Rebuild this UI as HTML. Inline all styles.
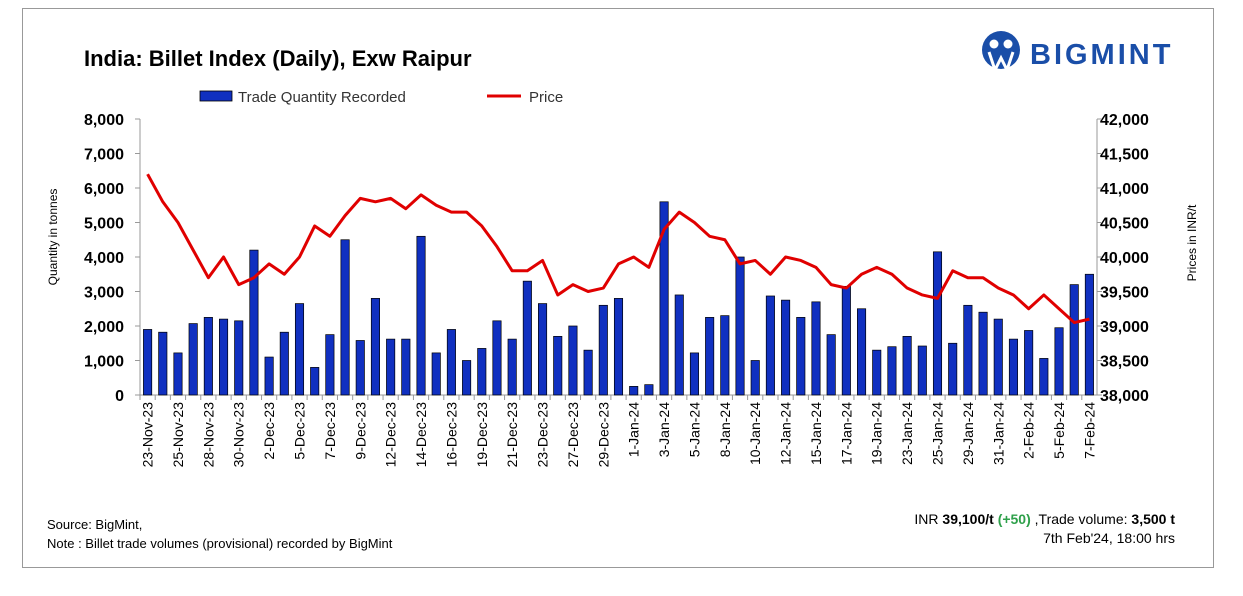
<!DOCTYPE html>
<html><head><meta charset="utf-8"><style>
body{margin:0;background:#fff;font-family:"Liberation Sans",sans-serif}
#wrap{position:relative;width:1243px;height:596px;overflow:hidden}
#frame{position:absolute;left:22px;top:8px;width:1190px;height:558px;border:1px solid #999}
</style></head><body>
<div id="wrap">
<div id="frame"></div>
<svg id="chart" width="1243" height="596" style="position:absolute;left:0;top:0"></svg>
</div>
<script>
const dates=["23-Nov-23","24-Nov-23","25-Nov-23","27-Nov-23","28-Nov-23","29-Nov-23","30-Nov-23","1-Dec-23","2-Dec-23","4-Dec-23","5-Dec-23","6-Dec-23","7-Dec-23","8-Dec-23","9-Dec-23","11-Dec-23","12-Dec-23","13-Dec-23","14-Dec-23","15-Dec-23","16-Dec-23","18-Dec-23","19-Dec-23","20-Dec-23","21-Dec-23","22-Dec-23","23-Dec-23","26-Dec-23","27-Dec-23","28-Dec-23","29-Dec-23","30-Dec-23","1-Jan-24","2-Jan-24","3-Jan-24","4-Jan-24","5-Jan-24","6-Jan-24","8-Jan-24","9-Jan-24","10-Jan-24","11-Jan-24","12-Jan-24","13-Jan-24","15-Jan-24","16-Jan-24","17-Jan-24","18-Jan-24","19-Jan-24","22-Jan-24","23-Jan-24","24-Jan-24","25-Jan-24","27-Jan-24","29-Jan-24","30-Jan-24","31-Jan-24","1-Feb-24","2-Feb-24","3-Feb-24","5-Feb-24","6-Feb-24","7-Feb-24"];
const quantity=[1900,1820,1220,2070,2250,2200,2150,4200,1100,1820,2650,800,1750,4500,1580,2800,1620,1620,4600,1220,1900,1000,1350,2150,1620,3300,2650,1700,2000,1300,2600,2800,250,300,5600,2900,1220,2250,2300,4000,1000,2870,2750,2250,2700,1750,3150,2500,1300,1400,1700,1420,4150,1500,2600,2400,2200,1620,1870,1060,1950,3200,3500];
const price=[41200,40800,40500,40100,39700,40000,39600,39700,39900,39750,40000,40450,40300,40600,40850,40800,40850,40700,40900,40750,40650,40650,40450,40150,39800,39800,39950,39450,39600,39500,39550,39900,40000,39850,40400,40650,40500,40300,40250,39900,39950,39750,40000,39950,39850,39600,39550,39750,39850,39750,39550,39450,39400,39800,39700,39700,39550,39450,39250,39450,39250,39050,39100];
const leftTicks=[0,1000,2000,3000,4000,5000,6000,7000,8000];
const rightTicks=[38000,38500,39000,39500,40000,40500,41000,41500,42000];

const svg=document.getElementById('chart');const NS="http://www.w3.org/2000/svg";
function mk(t,a,txt){const e=document.createElementNS(NS,t);for(const k in a)e.setAttribute(k,a[k]);if(txt!==undefined)e.textContent=txt;svg.appendChild(e);return e;}
const X0=140,X1=1097,Y0=395,Y1=119;
const n=dates.length,step=(X1-X0)/n;
const xc=i=>X0+step*(i+0.5);
const yL=v=>Y0-(v-0)/(8000)*(Y0-Y1);
const yR=v=>Y0-(v-38000)/4000*(Y0-Y1);
const f=v=>v.toLocaleString('en-US');
let e;
e=mk('text',{x:84,y:66,'font-size':22,'font-weight':'bold',fill:'#000'},'India: Billet Index (Daily), Exw Raipur');

// logo
e=mk('circle',{cx:1001,cy:50,r:19,fill:'#1a4ea8'});
mk('circle',{cx:994,cy:44,r:4.5,fill:'#fff'});mk('circle',{cx:1008,cy:44,r:4.5,fill:'#fff'});
mk('path',{d:'M989 52 L995 70 L1001 58 L1007 70 L1013 52',stroke:'#fff','stroke-width':3,fill:'none'});
e=mk('text',{x:1030,y:64,'font-size':29,'font-weight':'bold',fill:'#1a4ea8','letter-spacing':3},'BIGMINT');

// legend
e=mk('rect',{x:200,y:91,width:32,height:10,fill:'#1030c0',stroke:'#000','stroke-width':0.8});
e=mk('text',{x:238,y:102,'font-size':15,fill:'#333'},'Trade Quantity Recorded');
e=mk('line',{x1:487,y1:96,x2:521,y2:96,stroke:'#e00000','stroke-width':3});
e=mk('text',{x:529,y:102,'font-size':15,fill:'#333'},'Price');
// axes
e=mk('line',{x1:X0,y1:Y1,x2:X0,y2:Y0,stroke:'#999'});
e=mk('line',{x1:X1,y1:Y1,x2:X1,y2:Y0,stroke:'#999'});
e=mk('line',{x1:X0,y1:Y0,x2:X1,y2:Y0,stroke:'#999'});
leftTicks.forEach(v=>{e=mk('text',{x:124,y:yL(v)+6,'font-size':16,'font-weight':'bold','text-anchor':'end',fill:'#000'},f(v));
 mk('line',{x1:X0-5,y1:yL(v),x2:X0,y2:yL(v),stroke:'#999'});});
rightTicks.forEach(v=>{e=mk('text',{x:1100,y:yR(v)+6,'font-size':16,'font-weight':'bold',fill:'#000'},f(v));
 mk('line',{x1:X1,y1:yR(v),x2:X1+5,y2:yR(v),stroke:'#999'});});
e=mk('text',{x:0,y:0,'font-size':12,'text-anchor':'middle',fill:'#000',transform:'translate(57,237) rotate(-90)'},'Quantity in tonnes');
e=mk('text',{x:0,y:0,'font-size':12,'text-anchor':'middle',fill:'#000',transform:'translate(1196,243) rotate(-90)'},'Prices in INR/t');
// bars
const bw=step*0.55;
quantity.forEach((v,i)=>{e=mk('rect',{x:xc(i)-bw/2,y:yL(v),width:bw,height:Y0-yL(v),fill:'#1030c0',stroke:'#000','stroke-width':0.7});
 });
// x labels
dates.forEach((d,i)=>{mk('line',{x1:X0+step*i,y1:Y0,x2:X0+step*i,y2:Y0+5,stroke:'#999'});
 if(i%2===0){e=mk('text',{x:0,y:0,'font-size':14,'text-anchor':'end',fill:'#000',transform:`translate(${xc(i)+5},${Y0+7}) rotate(-90)`},d.replace(/-\d\d$/,i===0||i===62?d.slice(-3):''));
 e.textContent=(i===0||i===32||i===62||i===34||i===36||i===38||i===40||i===42||i===44||i===46||i===48||i===50||i===52||i===54||i===56||i===58||i===60)?d:d;
 }});
// price line
e=mk('polyline',{points:price.map((p,i)=>xc(i)+','+yR(p)).join(' '),fill:'none',stroke:'#e00000','stroke-width':3,'stroke-linejoin':'round'});

// footer
e=mk('text',{x:47,y:529,'font-size':13,fill:'#000'},'Source: BigMint,');
e=mk('text',{x:47,y:548,'font-size':13,fill:'#000'},'Note : Billet trade volumes (provisional) recorded by BigMint');
e=mk('text',{x:1175,y:524,'font-size':14,'text-anchor':'end',fill:'#000'});
e.innerHTML='INR <tspan font-weight="bold">39,100/t</tspan> <tspan font-weight="bold" fill="#2ea04a">(+50)</tspan> ,Trade volume: <tspan font-weight="bold">3,500 t</tspan>';
e=mk('text',{x:1175,y:543,'font-size':14,'text-anchor':'end',fill:'#000'},"7th Feb'24, 18:00 hrs");
</script>
</body></html>
